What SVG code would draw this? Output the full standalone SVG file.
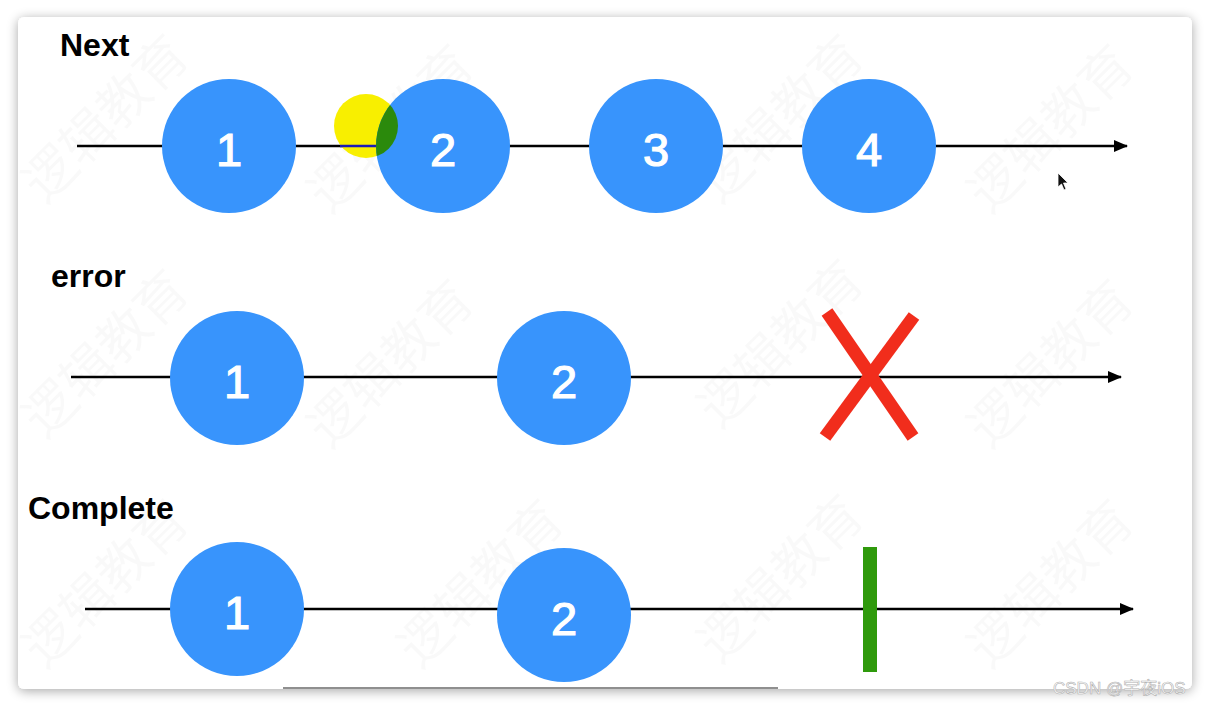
<svg xmlns="http://www.w3.org/2000/svg" width="1210" height="707" viewBox="0 0 1210 707">
  <defs>
    <filter id="shadow" x="-5%" y="-5%" width="110%" height="115%">
      <feGaussianBlur in="SourceAlpha" stdDeviation="6"/>
      <feOffset dy="2"/>
      <feComponentTransfer><feFuncA type="linear" slope="0.35"/></feComponentTransfer>
      <feMerge><feMergeNode/><feMergeNode in="SourceGraphic"/></feMerge>
    </filter>
    <marker id="arrow" viewBox="0 0 14 12" refX="13" refY="6" markerWidth="14" markerHeight="12" markerUnits="userSpaceOnUse" orient="auto">
      <path d="M0,0 L14,6 L0,12 Z" fill="#000"/>
    </marker>
    <clipPath id="yellowClip"><circle cx="366" cy="126" r="32"/></clipPath>
    <style>
      .label { font-family: "Liberation Sans", Arial, sans-serif; font-weight: bold; font-size: 32px; fill: #000; }
      .num { font-family: "Liberation Sans", Arial, sans-serif; font-size: 47px; fill: #fff; stroke: #fff; stroke-width: 1.2; text-anchor: middle; }
      .ball { fill: #3894fc; }
      .timeline { stroke: #000; stroke-width: 2.5; fill: none; marker-end: url(#arrow); }
      .wm { font-family: "Noto Sans CJK SC", sans-serif; font-size: 52px; fill: #000; opacity: 0.018; }
    </style>
  </defs>

  <rect x="0" y="0" width="1210" height="707" fill="#ffffff"/>
  <rect x="18" y="17" width="1174" height="672" rx="6" fill="#ffffff" filter="url(#shadow)"/>

  <g id="watermark">
    <text class="wm" transform="translate(45,205) rotate(-45)">逻辑教育</text>
    <text class="wm" transform="translate(330,215) rotate(-45)">逻辑教育</text>
    <text class="wm" transform="translate(720,205) rotate(-45)">逻辑教育</text>
    <text class="wm" transform="translate(990,215) rotate(-45)">逻辑教育</text>
    <text class="wm" transform="translate(45,440) rotate(-45)">逻辑教育</text>
    <text class="wm" transform="translate(330,450) rotate(-45)">逻辑教育</text>
    <text class="wm" transform="translate(720,430) rotate(-45)">逻辑教育</text>
    <text class="wm" transform="translate(990,450) rotate(-45)">逻辑教育</text>
    <text class="wm" transform="translate(45,670) rotate(-45)">逻辑教育</text>
    <text class="wm" transform="translate(420,670) rotate(-45)">逻辑教育</text>
    <text class="wm" transform="translate(720,665) rotate(-45)">逻辑教育</text>
    <text class="wm" transform="translate(990,670) rotate(-45)">逻辑教育</text>
  </g>

  <g id="labels">
    <text id="label-next" class="label" x="60" y="56">Next</text>
    <text id="label-error" class="label" x="51" y="287">error</text>
    <text id="label-complete" class="label" x="28" y="519">Complete</text>
  </g>

  <g id="connectors">
    <line class="timeline" x1="77" y1="146" x2="1127" y2="146"/>
    <line class="timeline" x1="71" y1="377" x2="1121" y2="377"/>
    <line class="timeline" x1="85" y1="609" x2="1133" y2="609"/>
  </g>

  <g id="next-highlight">
    <circle cx="366" cy="126" r="32" fill="#f8ef00"/>
    <line x1="340" y1="146" x2="376" y2="146" stroke="#1a1ab8" stroke-width="2.5"/>
  </g>

  <g id="next-1"><circle class="ball" cx="229" cy="146" r="67"/><text class="num" x="229" y="166">1</text></g>
  <g id="next-2"><circle class="ball" cx="443" cy="146" r="67"/><text class="num" x="443" y="166">2</text></g>
  <g id="next-overlap"><circle cx="443" cy="146" r="67" fill="#2b8a0c" clip-path="url(#yellowClip)"/></g>
  <g id="next-3"><circle class="ball" cx="656" cy="146" r="67"/><text class="num" x="656" y="166">3</text></g>
  <g id="next-4"><circle class="ball" cx="869" cy="146" r="67"/><text class="num" x="869" y="166">4</text></g>

  <g id="error-1"><circle class="ball" cx="237" cy="378" r="67"/><text class="num" x="237" y="398">1</text></g>
  <g id="error-2"><circle class="ball" cx="564" cy="378" r="67"/><text class="num" x="564" y="398">2</text></g>
  <g id="error-x" stroke="#f12d1c" stroke-width="13" stroke-linecap="butt">
    <line x1="827" y1="312" x2="913" y2="437"/>
    <line x1="914" y1="316" x2="825" y2="437"/>
  </g>

  <g id="complete-1"><circle class="ball" cx="237" cy="609" r="67"/><text class="num" x="237" y="629">1</text></g>
  <g id="complete-2"><circle class="ball" cx="564" cy="615" r="67"/><text class="num" x="564" y="635">2</text></g>
  <g id="complete-bar"><rect x="863" y="547" width="14" height="125" fill="#2f9a0c"/></g>

  <g id="cursor">
    <path d="M1058,173 L1058,187 L1061.5,184 L1064,190 L1066,189 L1063.5,183 L1068,183 Z" fill="#111" stroke="#fff" stroke-width="0.8"/>
  </g>

  <line x1="283" y1="688" x2="778" y2="688" stroke="#6a6a6a" stroke-width="1.5"/>

  <text x="1053" y="694" font-family="Liberation Sans, 'Noto Sans CJK SC', sans-serif" font-size="17" fill="#ffffff" stroke="#b0b0b0" stroke-width="0.6">CSDN @宇夜iOS</text>
</svg>
